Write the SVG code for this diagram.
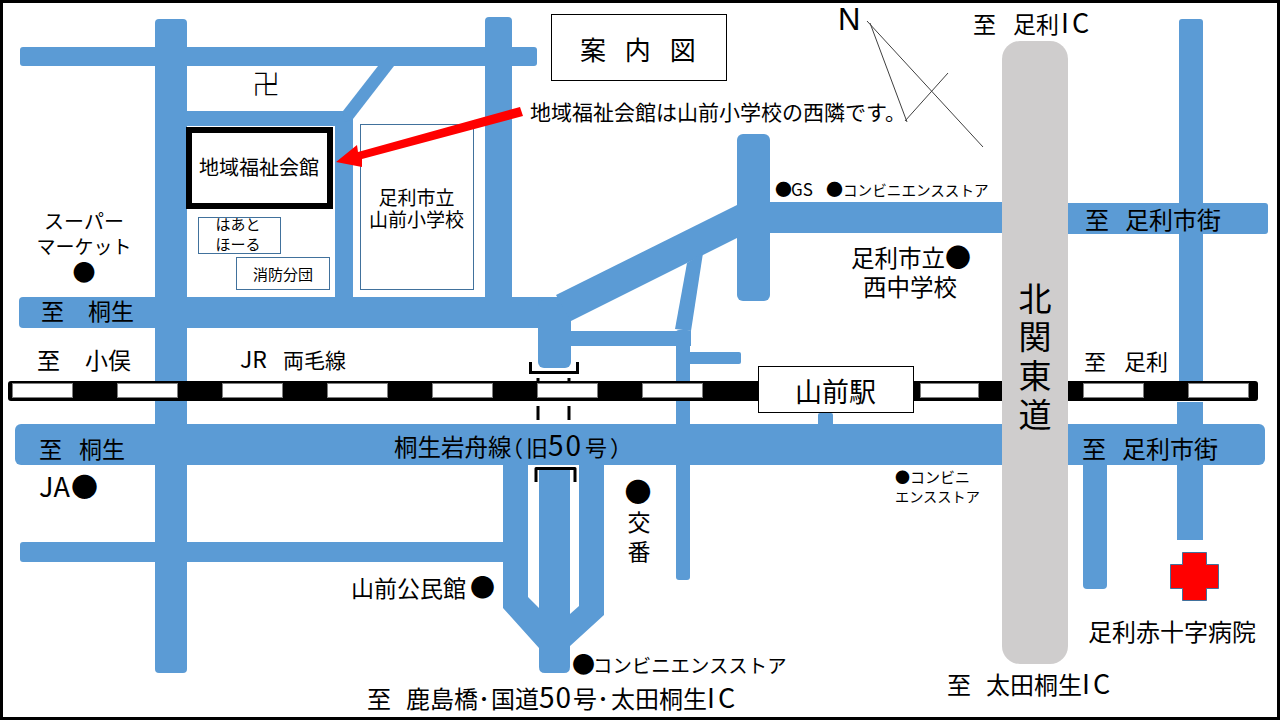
<svg xmlns="http://www.w3.org/2000/svg" width="1280" height="720" viewBox="0 0 1280 720">
<style>
text{font-family:"Noto Sans CJK JP","Noto Sans",sans-serif;fill:#000}
.m{text-anchor:middle}
.road{fill:#5B9BD5}
.s15{font-size:15px}.s19{font-size:19px}.s20{font-size:20px}.s21{font-size:21px}.s22{font-size:22px}.s23{font-size:23px}.s24{font-size:24px}
.lat{font-size:27px;letter-spacing:3px}
.box{fill:#fff;stroke:#41719C;stroke-width:1}
.plain{fill:#fff;stroke:#000;stroke-width:1}
.thin{fill:none;stroke:#404040;stroke-width:1}
.br{fill:none;stroke:#000;stroke-width:3}
.big{font-size:33px}
.dash{fill:#fff;stroke:#7f7f7f;stroke-width:1}
</style>
<rect x="0" y="0" width="1280" height="720" fill="#fff"/>
<g id="roads">
<rect class="road" x="20" y="47" width="517" height="19" rx="3"/>
<rect class="road" x="155" y="19" width="32" height="654" rx="4"/>
<rect class="road" x="485" y="17" width="27" height="285" rx="4"/>
<rect class="road" x="187" y="111" width="166" height="15"/>
<rect class="road" x="335" y="111" width="18" height="190"/>
<polygon class="road" points="343,111 378,66 394,66 353,119 345,122"/>
<rect class="road" x="19" y="297" width="552" height="31" rx="4"/>
<rect class="road" x="538" y="300" width="33" height="68" rx="6"/>
<polygon class="road" points="556,295 737,205 745,234 571,321"/>
<rect class="road" x="737" y="134" width="33" height="167" rx="6"/>
<rect class="road" x="765" y="202" width="240" height="31"/>
<rect class="road" x="1060" y="203" width="208" height="31" rx="3"/>
<polygon class="road" points="687,263 703,253 691,331 675,329"/>
<rect class="road" x="570" y="331" width="121" height="15"/>
<rect class="road" x="676" y="330" width="14" height="250" rx="3"/>
<rect class="road" x="688" y="352" width="53" height="12" rx="2"/>
<rect class="road" x="818" y="413" width="15" height="14" rx="2"/>
<rect class="road" x="15" y="424" width="1250" height="41" rx="6"/>
<rect class="road" x="20" y="542" width="490" height="20" rx="3"/>
<path class="road" d="M503 460H528V597L539 608V470H570V614L579 606V460H604V615L570 646V667Q570 673 564 673H545Q539 673 539 667V648L503 608Z"/>
<rect class="road" x="1083" y="460" width="24" height="129" rx="4"/>
<rect class="road" x="1179" y="19" width="24" height="370" rx="3"/>
<rect class="road" x="1177" y="402" width="26" height="138"/>
</g>
<g id="railway">
<rect x="8" y="381" width="1250" height="20" rx="3" fill="#000"/>
<rect class="dash" x="12.500" y="383.500" width="60" height="14"/><rect class="dash" x="117.500" y="383.500" width="60" height="14"/>
<rect class="dash" x="222.500" y="383.500" width="60" height="14"/><rect class="dash" x="327.500" y="383.500" width="60" height="14"/>
<rect class="dash" x="432.500" y="383.500" width="60" height="14"/><rect class="dash" x="537.500" y="383.500" width="60" height="14"/>
<rect class="dash" x="642.500" y="383.500" width="60" height="14"/><rect class="dash" x="920.500" y="383.500" width="58" height="14"/>
<rect class="dash" x="1083.500" y="383.500" width="60" height="14"/><rect class="dash" x="1188.500" y="383.500" width="60" height="14"/>
</g>
<g id="highway"><rect x="1002" y="41" width="66" height="623" rx="18" fill="#CFCDCD"/>
<text x="1035" y="311" class="m big">北</text>
<text x="1035" y="349" class="m big">関</text>
<text x="1035" y="388" class="m big">東</text>
<text x="1035" y="427" class="m big">道</text>
</g>
<g id="crossing">
<path class="br" d="M530.500 362V372.500H577.500V362"/>
<path class="br" d="M536 482V468.500H575V482" stroke-linejoin="round"/>
<path class="br" d="M538 378V381M569 378V381M538 406V420M569 406V420"/>
</g>
<g id="station"><rect class="plain" x="758.500" y="366.500" width="155" height="46"/><text x="795" y="402" style="font-size:27px">山前駅</text></g>
<g id="title"><rect class="plain" x="551.500" y="14.500" width="175" height="66"/><text x="580" y="60" style="font-size:26px;word-spacing:13px">案 内 図</text></g>
<g id="north">
<path class="thin" d="M867 21L983 147M870 23L907 122M905 121L948 73"/>
<text x="838" y="30" style="font-family:'Liberation Sans',sans-serif;font-size:31px">N</text>
</g>
<g id="center"><rect x="189" y="130" width="141" height="76" fill="#fff" stroke="#000" stroke-width="6"/><text x="199" y="175" class="s20">地域福祉会館</text></g>
<g id="heart"><rect class="box" x="198.500" y="217.500" width="82" height="36"/><text x="238" y="230" class="m" style="font-size:15px">はあと</text><text x="238" y="250" class="m" style="font-size:15px">ほーる</text></g>
<g id="fire"><rect class="box" x="236.500" y="257.500" width="93" height="32"/><text x="283" y="280" class="m s15">消防分団</text></g>
<g id="school"><rect class="box" x="360.500" y="124.500" width="113" height="165"/><text x="416.500" y="205" class="m s19">足利市立</text><text x="416.500" y="227" class="m s19">山前小学校</text></g>
<g id="arrow"><polygon points="336,162 357,145 358,152 520,107 523,116 362,159 362,167" fill="#f00"/></g>
<g id="labels">
<text x="266" y="95" class="m" style="font-size:28px;font-weight:300">卍</text>
<text x="530" y="120" class="s21">地域福祉会館は山前小学校の西隣です。</text>
<text y="33" class="s23"><tspan x="973">至 </tspan><tspan x="1013">足利</tspan><tspan x="1061" class="lat">IC</tspan></text>
<text y="196" style="font-size:17px"><tspan x="775">●</tspan><tspan x="791">GS </tspan><tspan x="826">●</tspan></text>
<text x="843" y="196" style="font-size:14.600px">コンビニエンスストア</text>
<text y="267" style="font-size:23.500px"><tspan x="851">足利市立</tspan><tspan x="945" style="font-size:26px">●</tspan></text>
<text x="863" y="296" style="font-size:23.500px">西中学校</text>
<text y="229" class="s24"><tspan x="1085">至 </tspan><tspan x="1125">足利市街</tspan></text>
<text y="370" class="s22"><tspan x="1084">至 </tspan><tspan x="1124">足利</tspan></text>
<text y="458" class="s24"><tspan x="1082">至 </tspan><tspan x="1122">足利市街</tspan></text>
<text x="895" y="483" class="s15">●コンビニ</text>
<text x="895" y="502" style="font-size:14.200px">エンスストア</text>
<text x="1088" y="641" class="s24">足利赤十字病院</text>
<text y="694" class="s24"><tspan x="947">至 </tspan><tspan x="986">太田桐生</tspan><tspan x="1082" class="lat">IC</tspan></text>
<text y="708" class="s24"><tspan x="367">至 </tspan><tspan x="406">鹿島橋</tspan><tspan x="478">･</tspan><tspan x="491">国道</tspan><tspan x="539" style="font-size:28px;letter-spacing:1px">50</tspan><tspan x="573">号</tspan><tspan x="597">･</tspan><tspan x="611">太田桐生</tspan><tspan x="707" class="lat">IC</tspan></text>
<text y="673"><tspan x="572" style="font-size:23px">●</tspan><tspan x="593" style="font-size:19.400px">コンビニエンスストア</tspan></text>
<text y="597" class="s23"><tspan x="351">山前公民館</tspan><tspan x="470" style="font-size:25px">●</tspan></text>
<text x="638" y="502" class="m" style="font-size:27px">●</text>
<text x="639" y="531" class="m s23">交</text>
<text x="639" y="560" class="m s23">番</text>
<text y="456"><tspan x="394" style="font-size:23.500px">桐生岩舟線</tspan><tspan x="501" class="s22">（</tspan><tspan x="526" class="s22">旧</tspan><tspan x="548" style="font-size:28px;letter-spacing:2px">50</tspan><tspan x="585" class="s22">号</tspan><tspan x="610" class="s22">）</tspan></text>
<text y="458" class="s23"><tspan x="39">至 </tspan><tspan x="79">桐生</tspan></text>
<text y="497"><tspan x="39" style="font-size:27px">JA</tspan><tspan x="71" style="font-size:27px">●</tspan></text>
<text y="369" class="s23"><tspan x="37">至 </tspan><tspan x="85">小俣</tspan></text>
<text y="368"><tspan x="240" style="font-size:23px">JR </tspan><tspan x="283" class="s21">両毛線</tspan></text>
<text y="320" class="s23"><tspan x="41">至 </tspan><tspan x="88">桐生</tspan></text>
<text x="84" y="229" class="m s20">スーパー</text>
<text x="84" y="254" class="m" style="font-size:19px">マーケット</text>
<text x="84" y="281" class="m" style="font-size:23px">●</text>
</g>
<g id="hospital"><polygon points="1182.500,552.500 1206.500,552.500 1206.500,564.500 1218.500,564.500 1218.500,588.500 1206.500,588.500 1206.500,600.500 1182.500,600.500 1182.500,588.500 1170.500,588.500 1170.500,564.500 1182.500,564.500" fill="#f00" stroke="#41719C" stroke-width="1"/></g>
<rect x="1.500" y="1.500" width="1277" height="717" fill="none" stroke="#000" stroke-width="3"/>
</svg>
